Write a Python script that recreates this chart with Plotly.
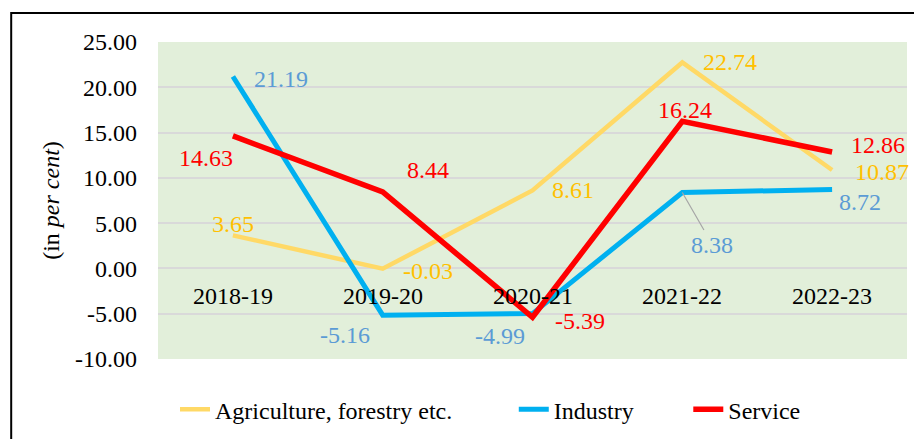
import plotly.graph_objects as go

years = ["2018-19", "2019-20", "2020-21", "2021-22", "2022-23"]
agriculture = [3.65, -0.03, 8.61, 22.74, 10.87]
industry = [21.19, -5.16, -4.99, 8.38, 8.72]
service = [14.63, 8.44, -5.39, 16.24, 12.86]
y_ticks = [-10, -5, 0, 5, 10, 15, 20, 25]

FONT = "Liberation Serif"
FS = 24

series = [
    ("Agriculture, forestry etc.", agriculture, "#FFD966", "#FFC000", 4.5, "legend"),
    ("Industry", industry, "#00B0F0", "#5B9BD5", 5, "legend2"),
    ("Service", service, "#FF0000", "#FF0000", 5.5, "legend3"),
]

# pixel offsets of each value label from its point (x, y)
label_shift = {
    "Agriculture, forestry etc.": [(0, 11), (45, -2), (40, 0), (48, 0), (50, -2)],
    "Industry": [(48, -2), (-38, -20), (-33, -22), None, (28, -13)],
    "Service": [(-27, -22), (45, 22), (47, -4), (3, 11), (46, 7)],
}

fig = go.Figure()
annotations = []
for name, vals, line_col, text_col, width, leg in series:
    fig.add_trace(go.Scatter(
        x=years, y=vals, mode="lines", name=name, legend=leg,
        line=dict(color=line_col, width=width),
        hoverinfo="x+y"
    ))
    for i, (yr, v) in enumerate(zip(years, vals)):
        shift = label_shift[name][i]
        txt = f"{v:.2f}"
        if shift is None:
            # label pulled away with a leader line
            annotations.append(dict(
                x=yr, y=v, text=txt, showarrow=True, arrowhead=0,
                arrowcolor="#A6A6A6", arrowwidth=1.2, ax=30, ay=52,
                font=dict(family=FONT, size=FS, color=text_col)
            ))
        else:
            annotations.append(dict(
                x=yr, y=v, text=txt, showarrow=False,
                xshift=shift[0], yshift=shift[1],
                font=dict(family=FONT, size=FS, color=text_col)
            ))

# category labels sit on the zero line
for yr in years:
    annotations.append(dict(
        x=yr, y=0, text=yr, showarrow=False, yshift=-28,
        font=dict(family=FONT, size=FS, color="black")
    ))


def legend_at(x):
    return dict(
        orientation="h", x=x, xanchor="left", y=-0.16, yanchor="middle",
        font=dict(family=FONT, size=FS, color="black"), itemwidth=30,
        bgcolor="rgba(0,0,0,0)"
    )


fig.update_layout(
    width=914, height=431,
    margin=dict(l=150, r=15, t=34, b=80, autoexpand=False),
    paper_bgcolor="white",
    plot_bgcolor="#E2EFDA",
    font=dict(family=FONT, size=FS, color="black"),
    showlegend=True,
    legend=legend_at(0.0227),
    legend2=legend_at(0.475),
    legend3=legend_at(0.708),
    xaxis=dict(
        type="category", range=[-0.5, 4.5], showticklabels=False,
        showgrid=False, zeroline=False, showline=False
    ),
    yaxis=dict(
        range=[-10, 25], tickmode="array", tickvals=y_ticks,
        ticktext=[f"{t:.2f}" for t in y_ticks],
        showgrid=True, gridcolor="#D9D9D9", gridwidth=1.5,
        zeroline=False, showline=False, ticks="", ticklabelstandoff=20,
        automargin=False,
        title=dict(text="(in <i>per cent</i>)", font=dict(family=FONT, size=FS), standoff=8)
    ),
    annotations=annotations,
    shapes=[dict(
        type="rect", xref="paper", yref="paper",
        x0=-0.196, x1=1.2, y0=-0.5, y1=1.0915,
        line=dict(color="black", width=2), fillcolor="rgba(0,0,0,0)", layer="above"
    )]
)

fig.write_html("out.html")
